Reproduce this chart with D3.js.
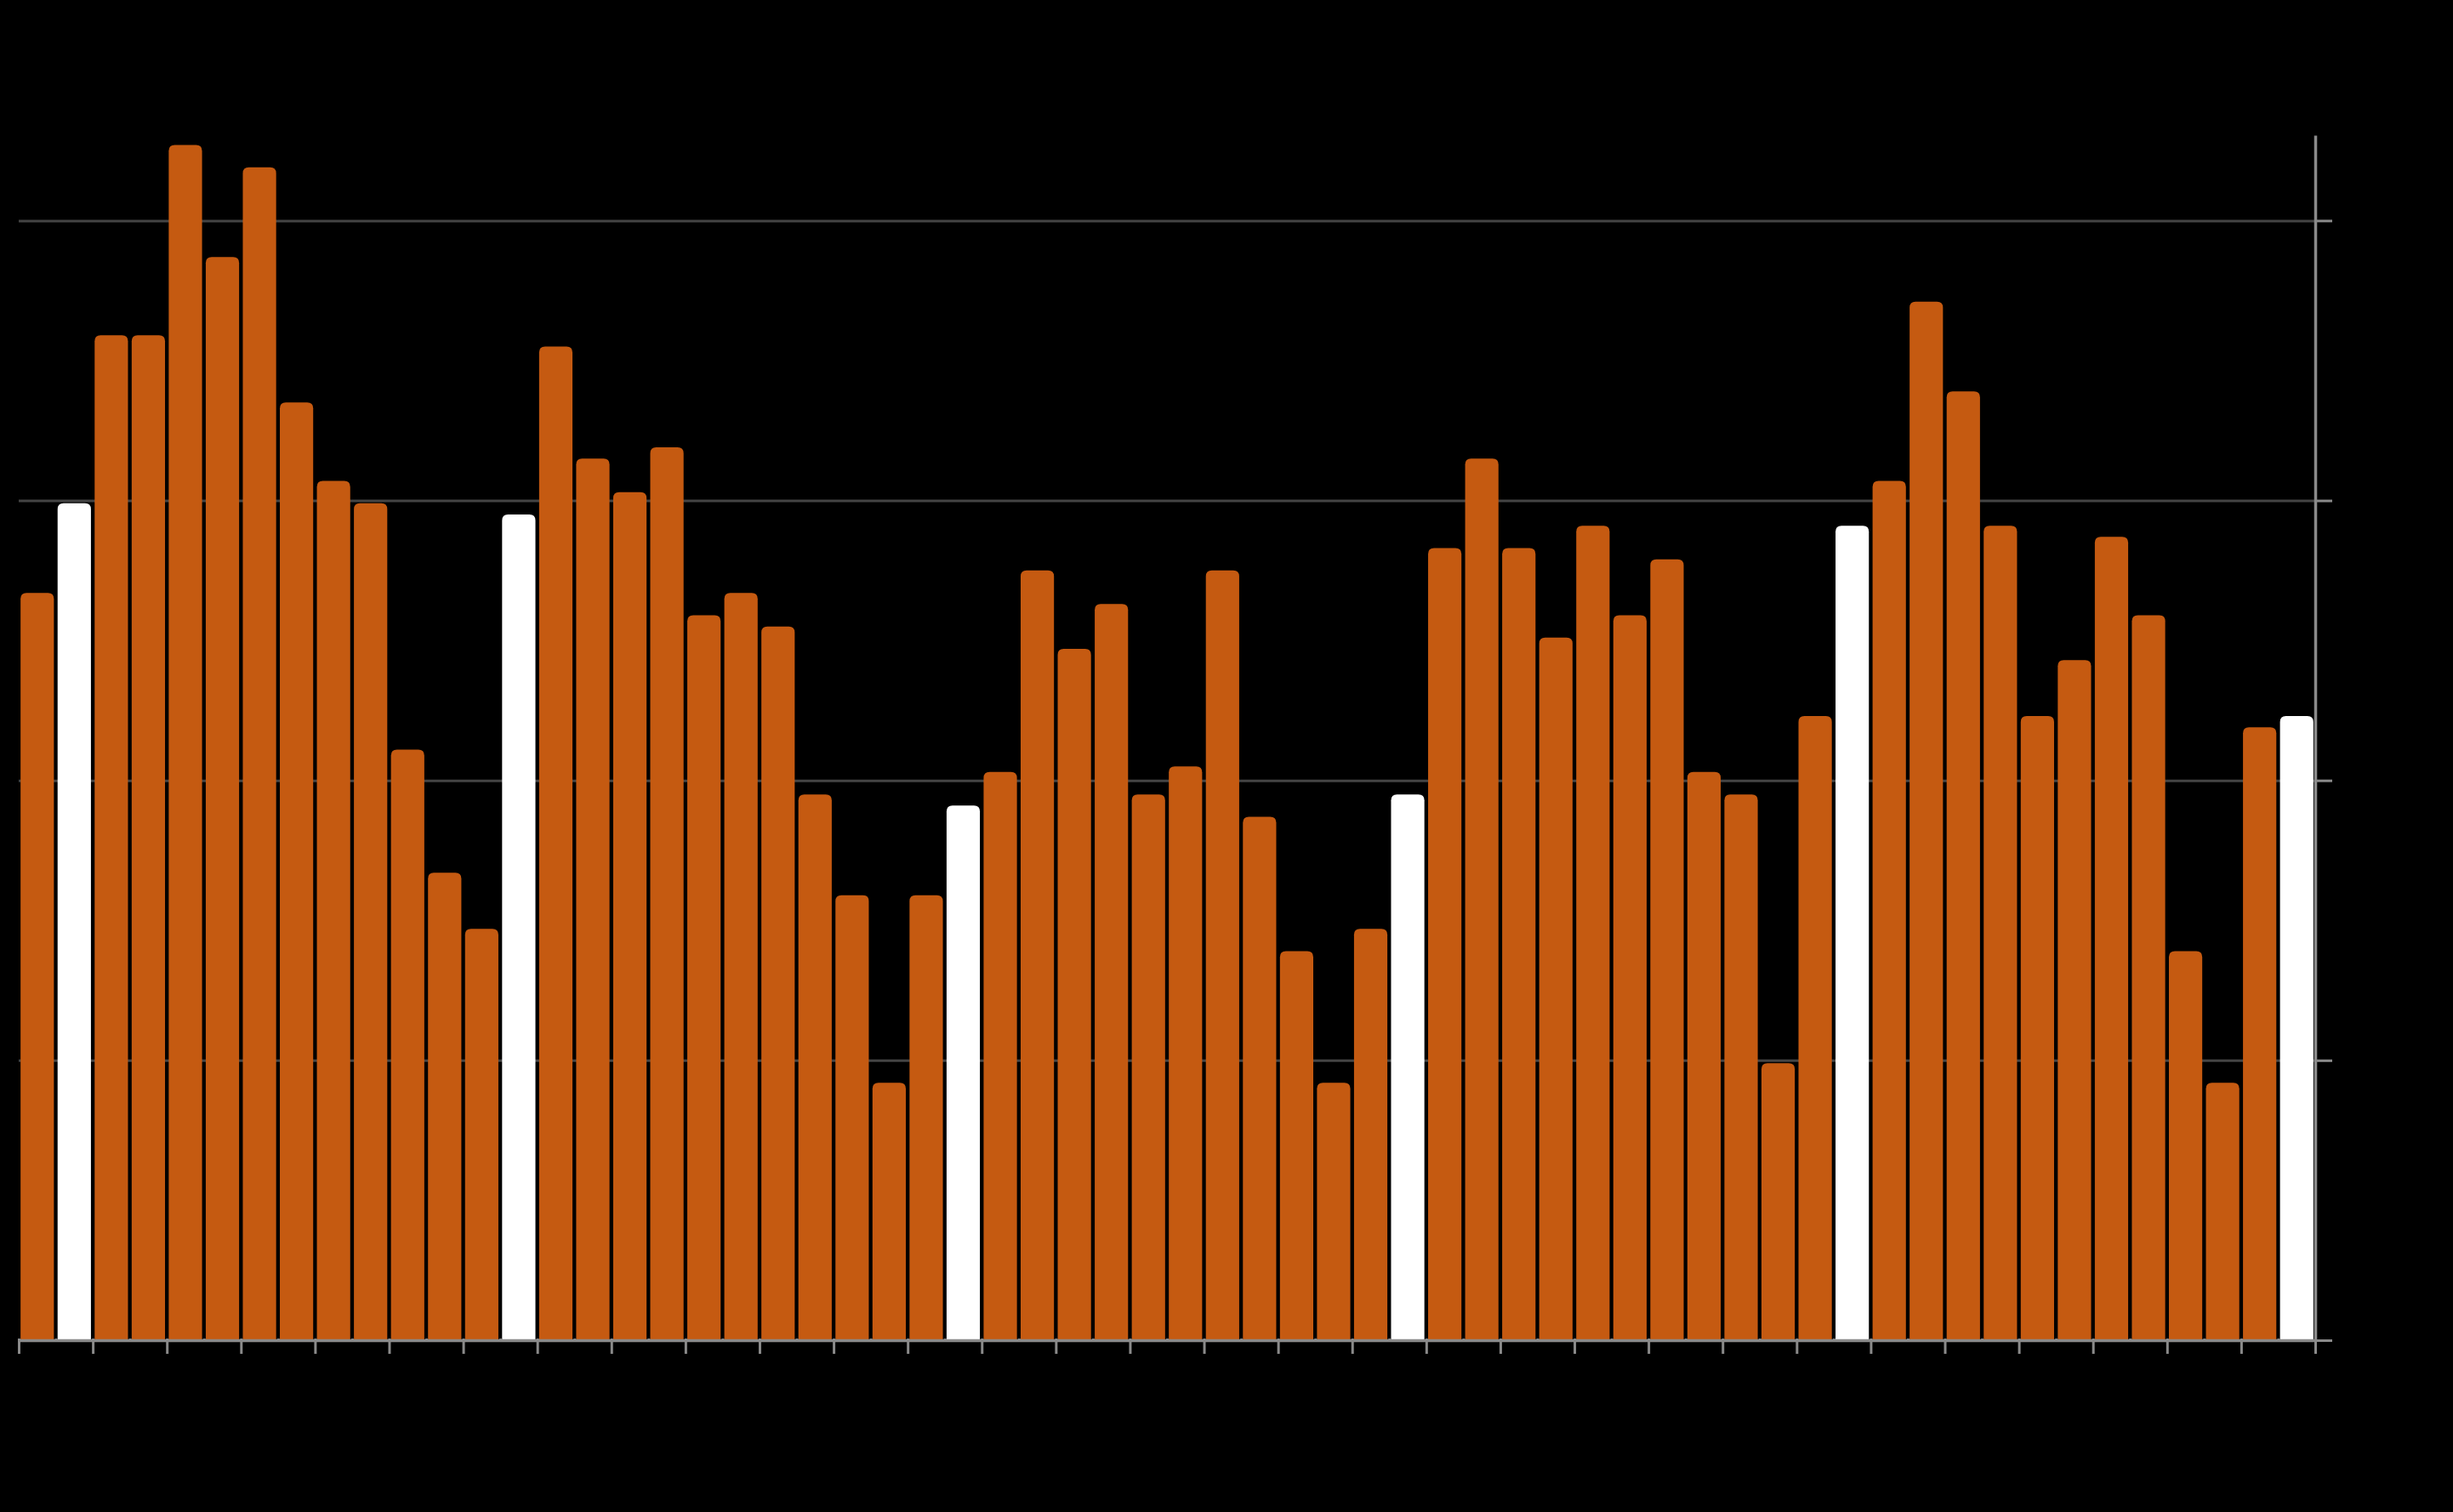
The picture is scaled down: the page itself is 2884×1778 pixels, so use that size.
<!DOCTYPE html>
<html>
<head>
<meta charset="utf-8">
<script src="https://cdn.jsdelivr.net/npm/d3@7"></script>
<style>
  html, body { margin: 0; padding: 0; background: #000; }
  svg { display: block; }
</style>
</head>
<body>
<svg id="chart" width="2884" height="1778"></svg>
<script>
// ---- data ----
const categories = d3.range(62).map(i => "P" + (i + 1));
const values = [
  26.7, 29.9, 35.9, 35.9, 42.7, 38.7, 41.9, 33.5, 30.7, 29.9, 21.1, 16.7,
  14.7, 29.5, 35.5, 31.5, 30.3, 31.9, 25.9, 26.7, 25.5, 19.5, 15.9, 9.2,
  15.9, 19.1, 20.3, 27.5, 24.7, 26.3, 19.5, 20.5, 27.5, 18.7, 13.9, 9.2,
  14.7, 19.5, 28.3, 31.5, 28.3, 25.1, 29.1, 25.9, 27.9, 20.3, 19.5, 9.9,
  22.3, 29.1, 30.7, 37.1, 33.9, 29.1, 22.3, 24.3, 28.7, 25.9, 13.9, 9.2,
  21.9, 22.3
];
const highlighted = [1, 13, 25, 37, 49, 61];
const yTicks = [0, 10, 20, 30, 40];
const yMax = 43.05;

// ---- layout ----
const plotLeft = 22, plotRight = 2722, plotTop = 159, plotBottom = 1576;
const orange = "#C55A11", white = "#FFFFFF";
const gridColor = "#444444", axisColor = "#8a8a8a";

const svg = d3.select("#chart");
svg.append("rect").attr("width", 2884).attr("height", 1778).attr("fill", "#000");

const x = d3.scaleBand().domain(categories).range([plotLeft, plotRight])
  .paddingInner(0.1).paddingOuter(0.05);
const xi = d3.scaleLinear().domain([0, categories.length]).range([plotLeft, plotRight]);
const y = d3.scaleLinear().domain([0, yMax]).range([plotBottom, plotTop]);

// gridlines (behind bars)
const grid = svg.append("g").attr("transform", `translate(${plotRight},0)`)
  .call(d3.axisRight(y).tickValues(yTicks.filter(v => v > 0))
    .tickSize(-(plotRight - plotLeft)).tickFormat(""));
grid.select(".domain").remove();
grid.selectAll("line").attr("stroke", gridColor).attr("stroke-width", 3);

// bars with rounded top corners
const r = 7;
function barPath(d, i) {
  const x0 = x(categories[i]), w = x.bandwidth();
  const yt = y(d), yb = y(0);
  return `M${x0},${yb} L${x0},${yt + r} Q${x0},${yt} ${x0 + r},${yt}
          L${x0 + w - r},${yt} Q${x0 + w},${yt} ${x0 + w},${yt + r} L${x0 + w},${yb} Z`;
}
svg.append("g").selectAll("path").data(values).join("path")
  .attr("d", (d, i) => barPath(d, i))
  .attr("fill", (d, i) => highlighted.includes(i) ? white : orange);

// bottom axis: minor notches each band, major ticks every 2 bands
const minor = svg.append("g").attr("transform", `translate(0,${plotBottom - 2})`)
  .call(d3.axisBottom(xi).tickValues(d3.range(0, categories.length + 1))
    .tickSize(4).tickSizeOuter(0).tickFormat(""));
minor.select(".domain").remove();
minor.selectAll("line").attr("stroke", axisColor).attr("stroke-width", 3);

const xAxis = svg.append("g").attr("transform", `translate(0,${plotBottom})`)
  .call(d3.axisBottom(xi).tickValues(d3.range(0, categories.length + 1, 2))
    .tickSize(16).tickSizeOuter(0).tickFormat(""));
xAxis.select(".domain").attr("stroke", axisColor).attr("stroke-width", 3.5);
xAxis.selectAll("line").attr("stroke", axisColor).attr("stroke-width", 3);

// right axis
const yAxis = svg.append("g").attr("transform", `translate(${plotRight},0)`)
  .call(d3.axisRight(y).tickValues(yTicks).tickSize(20).tickSizeOuter(0).tickFormat(""));
yAxis.select(".domain").attr("stroke", axisColor).attr("stroke-width", 3.5);
yAxis.selectAll("line").attr("stroke", axisColor).attr("stroke-width", 3);
</script>
</body>
</html>
